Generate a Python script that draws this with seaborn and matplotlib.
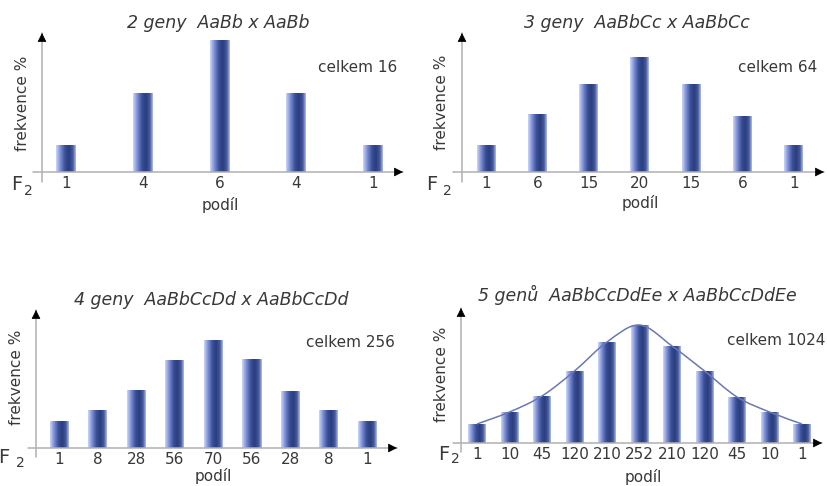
import numpy as np
import pandas as pd
import seaborn as sns
import matplotlib.pyplot as plt
from matplotlib.colors import LinearSegmentedColormap
from matplotlib.path import Path
from matplotlib.patches import PathPatch
from matplotlib.lines import Line2D

# data (bar heights are the drawn, schematic heights)
titles = ["2 geny  AaBb x AaBb", "3 geny  AaBbCc x AaBbCc",
          "4 geny  AaBbCcDd x AaBbCcDd", "5 genů  AaBbCcDdEe x AaBbCcDdEe"]
totals = ["celkem 16", "celkem 64", "celkem 256", "celkem 1024"]

labels_2 = ["1", "4", "6", "4", "1"]
heights_2 = [27, 79, 132, 79, 27]
labels_3 = ["1", "6", "15", "20", "15", "6", "1"]
heights_3 = [27, 58, 88, 115, 88, 56, 27]
labels_4 = ["1", "8", "28", "56", "70", "56", "28", "8", "1"]
heights_4 = [27, 38, 58, 88, 108, 89, 57, 38, 27]
labels_5 = ["1", "10", "45", "120", "210", "252", "210", "120", "45", "10", "1"]
heights_5 = [19, 31, 47, 72, 101, 118, 97, 72, 46, 31, 19]

W, H = 827, 486
TXT = "#383838"
AXC = "#b0b0b0"

sns.set_style("white")
plt.rcParams["font.family"] = ["DejaVu Sans"]

bar_cmap = LinearSegmentedColormap.from_list(
    "bar", [(0.0, "#ccd6f8"), (0.2, "#8092d8"), (0.45, "#3a4f96"),
            (0.65, "#2a3e7e"), (0.85, "#44589c"), (1.0, "#b0bce6")])
grad = np.linspace(0, 1, 64).reshape(1, -1)

fig = plt.figure(figsize=(W / 100, H / 100), dpi=100)


def fpx(x, y):
    # pixel (from top-left) -> figure fraction
    return x / W, 1 - y / H


def txt(x, y, s, **kw):
    kw.setdefault("color", TXT)
    kw.setdefault("ha", "center")
    kw.setdefault("va", "center")
    fig.text(*fpx(x, y), s, **kw)


def arrow(x0, y0, x1, y1):
    fig.add_artist(Line2D([x0 / W, x1 / W], [1 - y0 / H, 1 - y1 / H],
                          transform=fig.transFigure, color=AXC, lw=1.1))
    d = np.hypot(x1 - x0, y1 - y0)
    bx = x1 - (x1 - x0) / d * 8
    by = y1 - (y1 - y0) / d * 8
    fig.add_artist(plt.Annotation("", xy=fpx(x1, y1), xytext=fpx(bx, by),
                                  xycoords="figure fraction",
                                  arrowprops=dict(arrowstyle="-|>", color="black",
                                                  lw=0.5, mutation_scale=14,
                                                  shrinkA=0, shrinkB=0)))


# layout in pixels: y-axis x, right end, arrow top, baseline, first bar centre,
# bar spacing, bar width, x-axis start, y-axis bottom
panels = [
    dict(lab=labels_2, h=heights_2, L=42, R=403, top=33, base=172, c0=66, s=76.75, bw=20,
         xs=33, yb=182, title=(218, 23), tot=(397, 68), yl=(23, 103),
         F=(17, 185), F2=(28, 191), pod=(220, 205)),
    dict(lab=labels_3, h=heights_3, L=462, R=824, top=33, base=172, c0=486, s=51.3, bw=19,
         xs=453, yb=182, title=(637, 23), tot=(817, 68), yl=(442, 102),
         F=(432, 185), F2=(447, 191), pod=(640, 203)),
    dict(lab=labels_4, h=heights_4, L=36, R=397, top=310, base=448, c0=59, s=38.5, bw=19,
         xs=28, yb=457, title=(211, 300), tot=(395, 342), yl=(17, 377),
         F=(4, 457), F2=(20, 463), pod=(213, 476)),
    dict(lab=labels_5, h=heights_5, L=461, R=822, top=308, base=443, c0=477, s=32.5, bw=18,
         xs=453, yb=452, title=(637, 295), tot=(825, 340), yl=(442, 374),
         F=(444, 454), F2=(455, 459), pod=(643, 477)),
]

for i, p in enumerate(panels):
    n = len(p["h"])
    L, R, top, base = p["L"], p["R"], p["top"], p["base"]
    ax = fig.add_axes([L / W, 1 - base / H, (R - L) / W, (base - top) / H])
    ax.set_facecolor("none")
    df = pd.DataFrame({"pos": list(range(n)), "freq": p["h"]})
    sns.barplot(data=df, x="pos", y="freq", ax=ax, width=p["bw"] / p["s"],
                color="#2c4080", zorder=2)
    for bar in ax.patches:
        x0, y0 = bar.get_x(), bar.get_y()
        im = ax.imshow(grad, cmap=bar_cmap, aspect="auto", interpolation="bilinear",
                       extent=[x0, x0 + bar.get_width(), y0, y0 + bar.get_height()],
                       zorder=2)
        im.set_clip_path(bar)
        bar.set_facecolor("none")
        bar.set_edgecolor("none")

    if i == 3:
        # smooth curve through the bar tops
        xs_ = np.arange(n, dtype=float)
        ys_ = np.array(p["h"], dtype=float)
        verts = [(xs_[0], ys_[0])]
        codes = [Path.MOVETO]
        for k in range(n - 1):
            pm = (xs_[max(k - 1, 0)], ys_[max(k - 1, 0)])
            p0 = (xs_[k], ys_[k])
            p1 = (xs_[k + 1], ys_[k + 1])
            p2 = (xs_[min(k + 2, n - 1)], ys_[min(k + 2, n - 1)])
            c1 = (p0[0] + (p1[0] - pm[0]) / 6, p0[1] + (p1[1] - pm[1]) / 6)
            c2 = (p1[0] - (p2[0] - p0[0]) / 6, p1[1] - (p2[1] - p0[1]) / 6)
            verts += [c1, c2, p1]
            codes += [Path.CURVE4] * 3
        ax.add_patch(PathPatch(Path(verts, codes), facecolor="none",
                               edgecolor="#6a78b4", lw=1.1, zorder=3))

    ax.set_xlim((L - p["c0"]) / p["s"], (R - p["c0"]) / p["s"])
    ax.set_ylim(0, base - top)
    sns.despine(ax=ax, left=True, bottom=True)
    ax.set_yticks([])
    ax.set_xticks(range(n))
    ax.set_xticklabels(p["lab"])
    ax.tick_params(axis="x", length=0, pad=3, labelsize=11, labelcolor=TXT)
    ax.set(xlabel="", ylabel="")

    arrow(p["xs"], base, R, base)
    arrow(L, p["yb"], L, top)

    txt(*p["title"], titles[i], fontsize=12.5, style="italic")
    txt(*p["tot"], totals[i], fontsize=11, ha="right")
    txt(*p["yl"], "frekvence %", fontsize=11, rotation=90)
    txt(*p["F"], "F", fontsize=14)
    txt(*p["F2"], "2", fontsize=10)
    txt(*p["pod"], "podíl", fontsize=11)

fig.savefig("out.png", dpi=100)
